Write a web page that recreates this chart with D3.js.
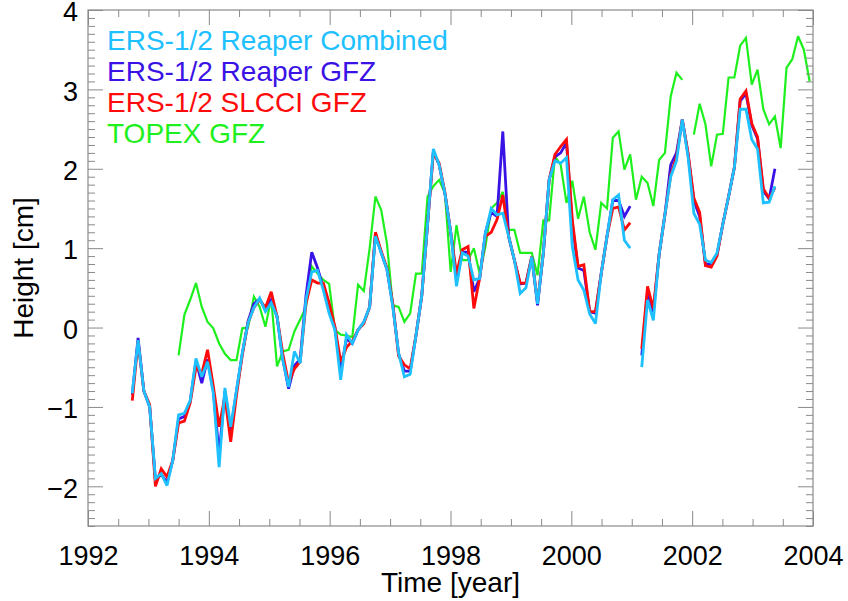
<!DOCTYPE html>
<html>
<head>
<meta charset="utf-8">
<script src="https://cdn.jsdelivr.net/npm/d3@7"></script>
<style>
	body{margin:0;background:#fff;}
	svg{display:block;font-family:"Liberation Sans",Arial,Helvetica,sans-serif;}
</style>
</head>
<body>
<div id="chart"></div>
<script>
// ERS 35-day cycles; index 0 starts late 1992
var cycleStart = 1992.733;
var cycleLength = 35/365.25;

var seriesNames = ['ERS-1/2 Reaper Combined','ERS-1/2 Reaper GFZ','ERS-1/2 SLCCI GFZ','TOPEX GFZ'];
var seriesColors = ['#1ec0ff','#3a12e6','#ff0a0a','#1ef01e'];

// values per cycle, null = no data
var reaperCombined = [
	-0.83,-0.16,-0.80,-1.00,-1.90,-1.84,-1.99,-1.67,-1.10,-1.08,
	-0.92,-0.39,-0.62,-0.43,-0.83,-1.76,-0.76,-1.25,-0.79,-0.32,
	0.06,0.25,0.37,0.20,0.31,0.14,-0.41,-0.75,-0.30,-0.45,
	0.35,0.70,0.72,0.47,0.18,-0.03,-0.66,-0.09,-0.20,-0.03,
	0.07,0.26,1.15,0.94,0.73,0.26,-0.32,-0.62,-0.59,-0.10,
	0.40,1.30,2.25,2.05,1.69,1.20,0.52,0.94,0.90,0.60,
	0.62,1.19,1.50,1.42,1.44,1.15,0.85,0.43,0.50,0.89,
	0.30,0.94,1.86,2.10,2.07,2.14,1.02,0.60,0.47,0.17,
	0.05,0.68,1.15,1.61,1.67,1.10,1.00,
	null,
	-0.50,0.35,0.09,0.92,1.42,1.90,2.10,2.62,2.15,1.44,
	1.30,0.85,0.82,0.94,1.30,1.65,2.02,2.75,2.75,2.37,
	2.25,1.57,1.58,1.78
];
var reaperGfz = [
	-0.85,-0.13,-0.80,-1.00,-1.92,-1.85,-1.95,-1.67,-1.15,-1.12,
	-0.93,-0.42,-0.70,-0.40,-0.80,-1.60,-0.80,-1.30,-0.80,-0.33,
	0.08,0.30,0.36,0.22,0.35,0.14,-0.40,-0.77,-0.48,-0.40,
	0.40,0.95,0.75,0.50,0.22,0.00,-0.55,-0.14,-0.20,-0.03,
	0.07,0.26,1.18,0.94,0.73,0.28,-0.33,-0.55,-0.55,-0.10,
	0.40,1.30,2.22,2.05,1.69,1.20,0.60,0.95,0.95,0.45,
	0.62,1.20,1.45,1.40,2.47,1.15,0.85,0.55,0.56,0.89,
	0.28,0.94,1.86,2.15,2.20,2.33,1.30,0.75,0.72,0.20,
	0.18,0.68,1.15,1.60,1.60,1.40,1.53,
	null,
	-0.35,0.45,0.20,0.92,1.42,2.05,2.20,2.62,2.18,1.60,
	1.40,0.80,0.80,0.92,1.30,1.65,2.02,2.85,2.95,2.55,
	2.38,1.72,1.62,2.00
];
var slcciGfz = [
	-0.92,-0.18,-0.80,-0.97,-2.00,-1.78,-1.88,-1.67,-1.20,-1.18,
	-0.95,-0.50,-0.58,-0.28,-0.74,-1.25,-0.87,-1.44,-0.85,-0.35,
	0.06,0.25,0.35,0.25,0.45,0.14,-0.33,-0.70,-0.52,-0.43,
	0.30,0.60,0.56,0.56,0.31,0.01,-0.43,-0.25,-0.17,-0.03,
	0.05,0.26,1.20,0.96,0.75,0.30,-0.36,-0.47,-0.52,-0.10,
	0.40,1.30,2.20,2.07,1.70,1.20,0.68,0.98,1.02,0.24,
	0.62,1.15,1.20,1.36,1.67,1.15,0.85,0.56,0.56,0.89,
	0.32,0.94,1.86,2.18,2.28,2.37,1.36,0.77,0.79,0.20,
	0.20,0.68,1.15,1.50,1.52,1.23,1.32,
	null,
	-0.27,0.52,0.24,0.92,1.42,1.92,2.15,2.62,2.20,1.63,
	1.45,0.78,0.76,0.90,1.30,1.65,2.02,2.88,2.98,2.57,
	2.40,1.75,1.63,1.76
];
var topexGfz = [
	null,null,null,null,null,null,null,null,
	-0.35,0.16,0.35,0.56,0.26,0.07,-0.01,-0.20,-0.33,-0.41,
	-0.41,-0.01,0.00,0.39,0.26,0.01,0.37,-0.49,-0.30,-0.28,
	-0.05,0.10,0.26,0.77,0.68,0.60,0.55,-0.03,-0.09,-0.10,
	-0.12,0.54,0.46,1.00,1.65,1.48,1.05,0.28,0.26,0.07,
	0.18,0.68,0.68,1.65,1.78,1.86,1.69,0.70,1.29,0.85,
	0.85,1.00,0.68,1.02,1.50,1.57,1.71,1.23,1.23,0.94,
	0.94,0.94,0.66,1.35,1.35,2.16,2.05,1.57,1.85,1.37,
	1.65,1.20,0.98,1.57,1.50,2.39,2.47,1.99,2.18,1.61,
	1.90,1.82,1.53,2.11,2.20,2.91,3.21,3.12,
	null,
	2.43,2.82,2.56,2.03,2.43,2.44,3.15,3.15,3.55,3.65,
	3.06,3.25,2.75,2.56,2.66,2.26,3.27,3.38,3.67,3.50,
	3.10
];

var xMajorTicks = [1992,1994,1996,1998,2000,2002,2004];
var xMinorTicks = [1992.5,1993,1993.5,1994.5,1995,1995.5,1996.5,1997,1997.5,1998.5,1999,1999.5,2000.5,2001,2001.5,2002.5,2003,2003.5];
var yMajorTicks = [-2,-1,0,1,2,3,4];

var width = 848, height = 601;
var plot = {left:88, right:813, top:10, bottom:526};
var axisColor = '#8a8a8a';

var svg = d3.select('#chart').append('svg')
	.attr('width', width)
	.attr('height', height);

var x = d3.scaleLinear().domain([1992, 2004]).range([plot.left, plot.right]);
var y = d3.scaleLinear().domain([-2.5, 4]).range([plot.bottom, plot.top]);

// minor y ticks every 0.1
var yMinorTicks = d3.range(-25, 41).map(function(d){ return d/10; })
	.filter(function(d){ return Math.abs(d - Math.round(d)) > 1e-6; });

function styleAxis(g){
	g.select('.domain').remove();
	g.selectAll('.tick line').attr('stroke', axisColor).attr('stroke-width', 1);
	g.selectAll('.tick text').attr('fill', '#000').attr('font-size', 27)
		.attr('font-family', '"Liberation Sans",Arial,Helvetica,sans-serif');
}

//1.lines (TOPEX behind)
var line = d3.line()
	.defined(function(d){ return d.v !== null; })
	.x(function(d){ return x(cycleStart + d.i*cycleLength); })
	.y(function(d){ return y(d.v); });

function toPoints(arr){
	return arr.map(function(v, i){ return {i:i, v:v}; });
}

var drawOrder = [
	{data:topexGfz, color:seriesColors[3], w:2.2},
	{data:reaperGfz, color:seriesColors[1], w:2.8},
	{data:slcciGfz, color:seriesColors[2], w:2.8},
	{data:reaperCombined, color:seriesColors[0], w:2.8}
];
svg.append('g').selectAll('path')
	.data(drawOrder)
	.join('path')
	.attr('d', function(d){ return line(toPoints(d.data)); })
	.attr('fill', 'none')
	.attr('stroke', function(d){ return d.color; })
	.attr('stroke-width', function(d){ return d.w; })
	.attr('stroke-linejoin', 'miter')
	.attr('stroke-miterlimit', 3);

//2.frame and ticks
svg.append('rect')
	.attr('x', plot.left).attr('y', plot.top)
	.attr('width', plot.right - plot.left).attr('height', plot.bottom - plot.top)
	.attr('fill', 'none').attr('stroke', axisColor).attr('stroke-width', 1.2);

svg.append('g').attr('transform', 'translate(0,' + plot.bottom + ')')
	.call(d3.axisBottom(x).tickValues(xMajorTicks).tickSize(-15).tickPadding(20).tickFormat(d3.format('d')))
	.call(styleAxis);
svg.append('g').attr('transform', 'translate(0,' + plot.bottom + ')')
	.call(d3.axisBottom(x).tickValues(xMinorTicks).tickSize(-7).tickFormat(''))
	.call(styleAxis);
svg.append('g').attr('transform', 'translate(0,' + plot.top + ')')
	.call(d3.axisTop(x).tickValues(xMajorTicks).tickSize(-15).tickFormat(''))
	.call(styleAxis);
svg.append('g').attr('transform', 'translate(0,' + plot.top + ')')
	.call(d3.axisTop(x).tickValues(xMinorTicks).tickSize(-7).tickFormat(''))
	.call(styleAxis);

svg.append('g').attr('transform', 'translate(' + plot.left + ',0)')
	.call(d3.axisLeft(y).tickValues(yMajorTicks).tickSize(-15).tickPadding(10).tickFormat(d3.format('d')))
	.call(styleAxis)
	.selectAll('.tick text').attr('dy', '0.4em');
svg.append('g').attr('transform', 'translate(' + plot.left + ',0)')
	.call(d3.axisLeft(y).tickValues(yMinorTicks).tickSize(-7).tickFormat(''))
	.call(styleAxis);
svg.append('g').attr('transform', 'translate(' + plot.right + ',0)')
	.call(d3.axisRight(y).tickValues(yMajorTicks).tickSize(-15).tickFormat(''))
	.call(styleAxis);
svg.append('g').attr('transform', 'translate(' + plot.right + ',0)')
	.call(d3.axisRight(y).tickValues(yMinorTicks).tickSize(-7).tickFormat(''))
	.call(styleAxis);

//3.titles
svg.append('text')
	.attr('x', (plot.left + plot.right)/2).attr('y', 592)
	.attr('text-anchor', 'middle').attr('font-size', 28)
	.text('Time [year]');
svg.append('text')
	.attr('transform', 'translate(33,' + y(0.75) + ') rotate(-90)')
	.attr('text-anchor', 'middle').attr('font-size', 28)
	.text('Height [cm]');

//4.legend
svg.append('g').selectAll('text')
	.data(seriesNames)
	.join('text')
	.attr('x', 107)
	.attr('y', function(d, i){ return 49.5 + i*31.2; })
	.attr('font-size', 28)
	.attr('fill', function(d, i){ return seriesColors[i]; })
	.text(function(d){ return d; });
</script>
</body>
</html>
